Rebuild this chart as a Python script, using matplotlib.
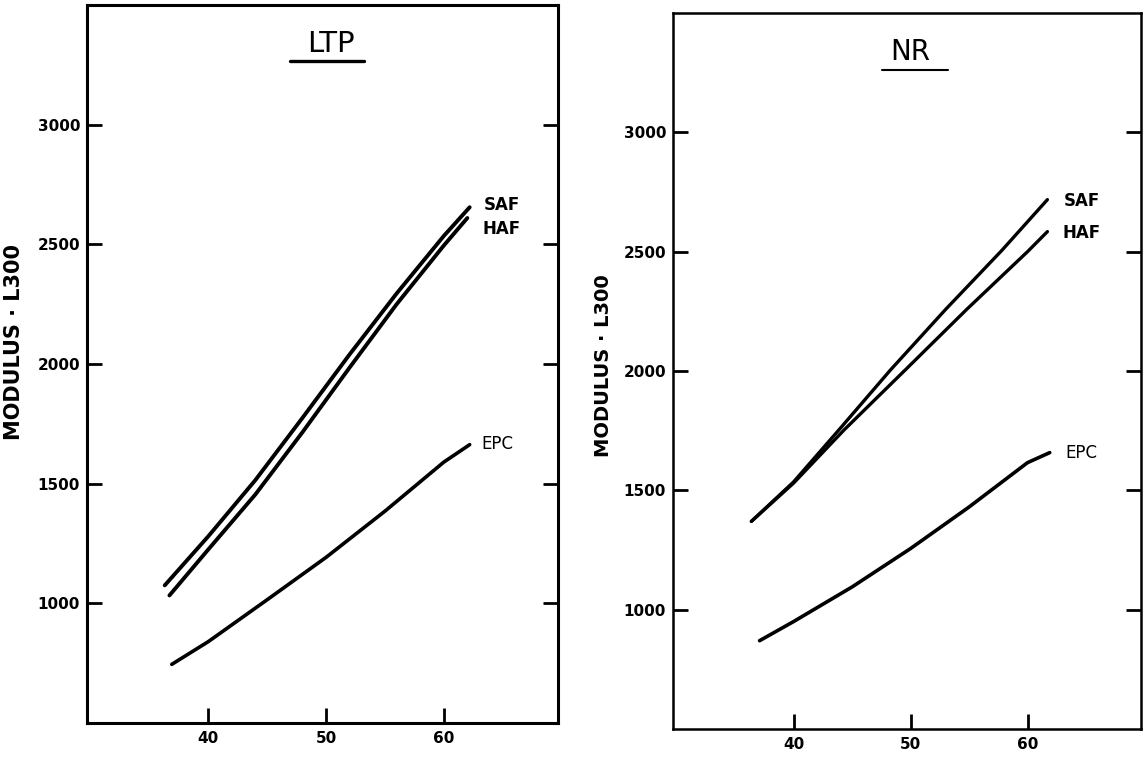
import numpy as np
import matplotlib
matplotlib.use("Agg")
from matplotlib import pyplot as plt

# ---- data ----
# LTP panel
ltp_saf_x = [36.3, 40.0, 44.0, 48.0, 52.0, 56.0, 60.0, 62.2]
ltp_saf_y = [1075, 1280, 1515, 1775, 2040, 2295, 2535, 2655]
ltp_haf_x = [36.7, 40.0, 44.0, 48.0, 52.0, 56.0, 60.0, 62.0]
ltp_haf_y = [1033, 1225, 1455, 1715, 1985, 2250, 2495, 2610]
ltp_epc_x = [36.9, 40.0, 45.0, 50.0, 55.0, 60.0, 62.2]
ltp_epc_y = [745, 840, 1015, 1192, 1385, 1590, 1663]

# NR panel
nr_saf_x = [36.4, 40.0, 44.0, 48.3, 53.0, 57.8, 61.7]
nr_saf_y = [1370, 1535, 1760, 2005, 2258, 2505, 2718]
nr_haf_x = [36.4, 40.0, 44.3, 49.5, 54.8, 60.0, 61.7]
nr_haf_y = [1370, 1530, 1752, 2002, 2258, 2500, 2584]
nr_epc_x = [37.1, 40.0, 45.0, 50.0, 55.0, 60.0, 61.9]
nr_epc_y = [870, 950, 1095, 1256, 1430, 1616, 1658]

x_ticks = [40, 50, 60]
y_ticks = [1000, 1500, 2000, 2500, 3000]
ylabel = "MODULUS · L300"

fig = plt.figure(figsize=(11.46, 7.59), dpi=100)
ax1 = fig.add_axes([87 / 1146, 1 - 723 / 759, 471 / 1146, 718 / 759])
ax2 = fig.add_axes([673 / 1146, 1 - 729 / 759, 468 / 1146, 716 / 759])


def setup(ax, title, t_x, t_fs, ul, spine_w, lab_fs, lab_x, lab_y):
    ax.set_xlim(29.7, 69.7)
    ax.set_ylim(500, 3500)
    ax.set_xticks(x_ticks)
    ax.set_yticks(y_ticks)
    for sp in ax.spines.values():
        sp.set_linewidth(spine_w)
    ax.tick_params(axis='both', direction='in', length=11, width=2,
                   labelsize=11, pad=6)
    ax.tick_params(axis='y', right=True, pad=5)
    for lab in ax.get_xticklabels() + ax.get_yticklabels():
        lab.set_fontweight('bold')
    ax.set_ylabel(ylabel, fontsize=lab_fs, fontweight='bold')
    ax.yaxis.set_label_coords(lab_x, lab_y)
    ax.text(t_x, 0.946, title, transform=ax.transAxes, ha='center',
            va='center', fontsize=t_fs)
    ax.plot(ul[0], [ul[1], ul[1]], transform=ax.transAxes, color='black',
            lw=ul[2], solid_capstyle='round')


setup(ax1, "LTP", 0.517, 21, ([0.432, 0.589], 0.922, 2.4), 2.2, 15,
      -0.134, 0.53)
setup(ax2, "NR", 0.507, 20, ([0.447, 0.588], 0.920, 1.5), 1.8, 14,
      -0.128, 0.508)

series = [
    (ax1, ltp_saf_x, ltp_saf_y, "SAF", 1.2, 8, 'bold', 2.8),
    (ax1, ltp_haf_x, ltp_haf_y, "HAF", 1.3, -47, 'bold', 2.8),
    (ax1, ltp_epc_x, ltp_epc_y, "EPC", 1.0, 4, 'normal', 2.6),
    (ax2, nr_saf_x, nr_saf_y, "SAF", 1.4, -4, 'bold', 2.4),
    (ax2, nr_haf_x, nr_haf_y, "HAF", 1.3, -4, 'bold', 2.4),
    (ax2, nr_epc_x, nr_epc_y, "EPC", 1.3, -3, 'normal', 2.6),
]
for ax, xs, ys, name, dx, dy, fw, lw in series:
    ax.plot(xs, ys, color='black', lw=lw, solid_capstyle='round')
    ax.text(xs[-1] + dx, ys[-1] + dy, name, fontsize=12, fontweight=fw,
            ha='left', va='center')

fig.savefig("out.png", dpi=100)
